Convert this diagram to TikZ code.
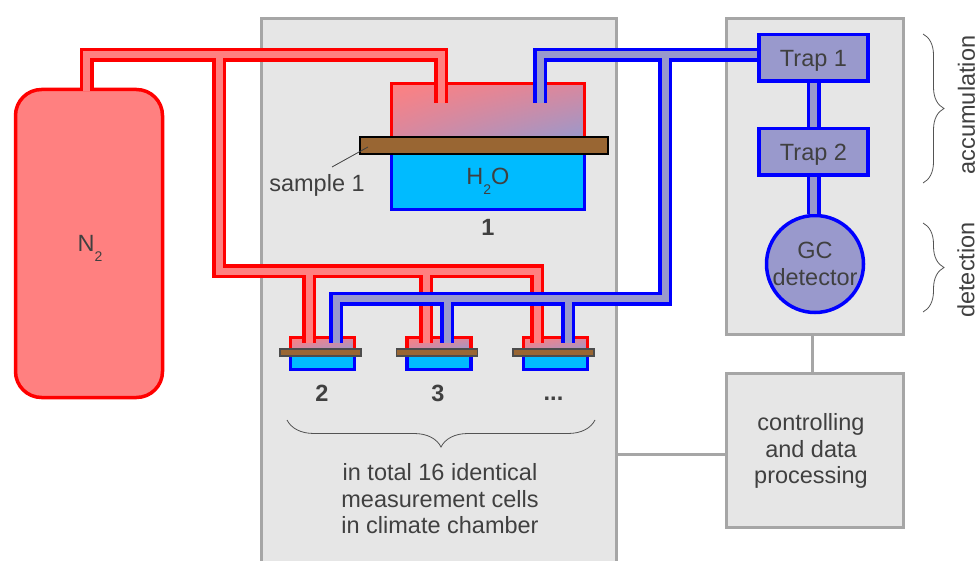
\documentclass[tikz,border=0pt]{standalone}
\usepackage{fontspec}
\setmainfont{Liberation Sans}
\usetikzlibrary{decorations.pathreplacing,shadings}
\definecolor{redfill}{HTML}{FF8080}
\definecolor{bluefill}{HTML}{9999CC}
\definecolor{midfill}{HTML}{D8889F}
\definecolor{waterfill}{HTML}{00BBFF}
\definecolor{boxfill}{HTML}{E6E6E6}
\definecolor{boxline}{HTML}{A6A6A6}
\definecolor{platefill}{HTML}{996633}
\definecolor{textgrey}{HTML}{404040}
\newcommand{\lowtwo}{\smash{\raisebox{-10pt}{\fontsize{14}{14}\selectfont 2}}}

\begin{document}
\begin{tikzpicture}[x=1pt,y=-1pt,node distance=116.5pt,text=textgrey,
    font=\fontsize{23.5}{26.5}\selectfont,
    frame box/.style={draw=boxline,fill=boxfill,line width=3pt,inner sep=0pt,align=center},
    red cell/.style={draw=red,line width=3.5pt,inner sep=0pt,shade,shading=bilinear interpolation,upper left=redfill,upper right=midfill,lower left=midfill,lower right=bluefill},
    water cell/.style={draw=blue,fill=waterfill,line width=3.5pt,inner sep=0pt},
    plate/.style={draw=black,fill=platefill,line width=1.5pt,inner sep=0pt},
    small top/.style={red cell,minimum width=64pt,minimum height=12.5pt},
    small water/.style={water cell,minimum width=64pt,minimum height=14.5pt},
    small plate/.style={plate,draw=black!70,minimum width=81pt,minimum height=7pt},
    trap node/.style={draw=blue,fill=bluefill,line width=3.5pt,inner sep=0pt,text depth=0pt,minimum width=109pt,minimum height=46.5pt},
    red pipe/.style={draw=redfill,line width=7pt,preaction={draw=red,line width=14pt}},
    blue pipe/.style={draw=bluefill,line width=7pt,preaction={draw=blue,line width=14pt}},
    thin brace/.style={draw=textgrey!90,line width=0.8pt,decorate,decoration={brace,amplitude=#1}},
    bold label/.style={font=\fontsize{23.5}{26}\selectfont\bfseries}]
    \useasboundingbox (0,0) rectangle (977,561);

    % boxes
    \node[frame box,minimum width=355pt,minimum height=556pt] (chamber) at (439,297) {};
    \node[frame box,minimum width=177pt,minimum height=315pt] (analysis) at (814.5,176.5) {};
    \node[frame box,minimum width=177pt,minimum height=154pt] (control) at (814.5,450) {};
    \node[align=center] (controltext) at (811,451) {controlling\\and data\\processing};
    \coordinate (controlport) at (725,454);
    \coordinate (controltop) at (812,373);
    \draw[boxline,line width=3pt] (analysis.south -| controltop) -- (controltop);
    \draw[boxline,line width=3pt] (chamber.east |- controlport) -- (controlport);

    % gas bottle
    \node[draw=red,fill=redfill,line width=3.5pt,rounded corners=26pt,inner sep=0pt,minimum width=147pt,minimum height=308pt] (bottle) at (89,243.5) {};
    \node (gas) at (90,243) {N\lowtwo};

    % cell 1
    \node[red cell,minimum width=193pt,minimum height=55pt] (top1) at (488,111) {};
    \node[water cell,text depth=6pt,minimum width=193pt,minimum height=61pt] (water1) at (488,179) {H\lowtwo O};
    \node[plate,minimum width=248pt,minimum height=17pt] (plate1) at (484,145.5) {};
    \node[bold label] (label1) at (488,227) {1};
    \node (sample) at (317,185) {sample 1};
    \coordinate (sampletip) at (368,147);
    \coordinate (sampleend) at (332,167);
    \draw[textgrey,line width=0.8pt] (sampleend) -- (sampletip);

    % cells 2, 3, ...
    \node[small top] (top2) at (322.5,343.75) {};
    \node[small top] (top3) [right of=top2] {};
    \node[small top] (top4) [right of=top3] {};
    \node[small water] (water2) at (322.5,362.25) {};
    \node[small water] (water3) [right of=water2] {};
    \node[small water] (water4) [right of=water3] {};
    \node[small plate] (plate2) at (320.5,352.5) {};
    \node[small plate] (plate3) [right of=plate2] {};
    \node[small plate] (plate4) [right of=plate3] {};
    \node[bold label] (label2) at (322,393) {2};
    \node[bold label] (label3) at (438,393) {3};
    \node[bold label] (label4) at (553.5,398.5) {...};

    % traps and detector
    \node[trap node] (trap1) at (813.5,58) {Trap 1};
    \node[trap node] (trap2) [below of=trap1,node distance=94pt] {Trap 2};
    \node[draw=blue,fill=bluefill,line width=3.5pt,circle,inner sep=0pt,minimum size=97pt,align=center] (gc) at (815,264) {GC\\detector};

    % free ends of the pipes
    \coordinate (redout) at (86.5,91);
    \coordinate (redtop) at (86.5,55);
    \coordinate (redin1) at (441,103);
    \coordinate (redbranch) at (219,55);
    \coordinate (redlow) at (219,271.5);
    \coordinate (redin2) at (309,343);
    \coordinate (redin3) at (426,343);
    \coordinate (redin4) at (537,343);
    \coordinate (blueport) at (trap1.west |- redtop);
    \coordinate (blueout) at (540,103);
    \coordinate (bluebranch) at (665,55);
    \coordinate (bluelow) at (665,299);
    \coordinate (bluein2) at (336,343);
    \coordinate (bluein3) at (447,343);
    \coordinate (bluein4) at (568,343);

    \path[red pipe] (redout) -- (redtop) -- (redin1 |- redtop) -- (redin1)
        (redbranch) -- (redlow) -- (redin4 |- redlow) -- (redin4)
        (redin2 |- redlow) -- (redin2)
        (redin3 |- redlow) -- (redin3);
    \path[blue pipe] (blueport) -- (blueout |- blueport) -- (blueout)
        (bluebranch) -- (bluelow) -- (bluein2 |- bluelow) -- (bluein2)
        (bluein3 |- bluelow) -- (bluein3)
        (bluein4 |- bluelow) -- (bluein4);
    \path[blue pipe] (trap1.south) -- (trap2.north)
        (trap2.south) -- (trap2.south |- gc.north);

    % braces
    \draw[thin brace=27pt] (595,420) -- (287,420);
    \draw[thin brace=21pt] (923,34) -- (923,183);
    \draw[thin brace=21pt] (923,223) -- (923,312);
    \node[align=center] (note) at (440,499) {in total 16 identical\\measurement cells\\in climate chamber};
    \node[rotate=90] (accu) at (966.5,105) {accumulation};
    \node[rotate=90] (detect) at (966,270) {detection};
\end{tikzpicture}
\end{document}
